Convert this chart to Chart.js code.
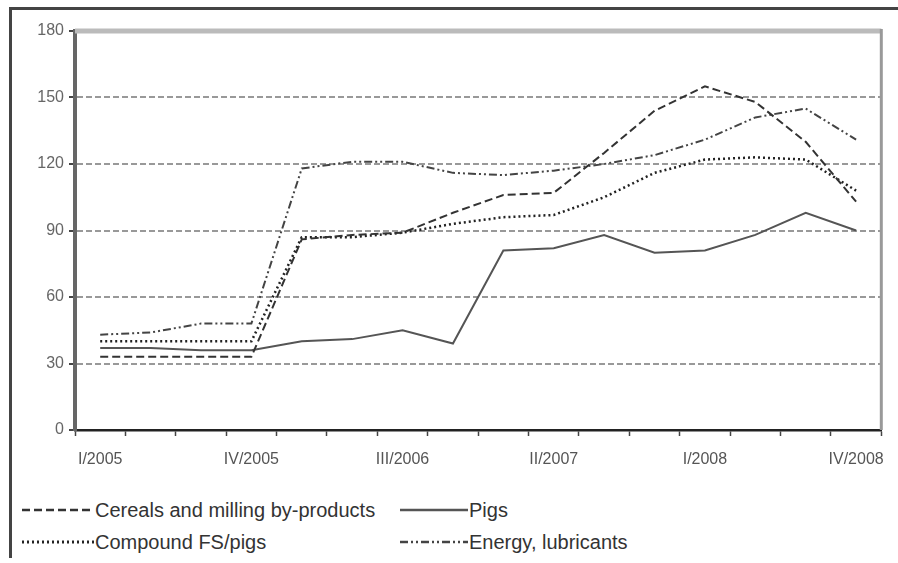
<!DOCTYPE html>
<html>
<head>
<meta charset="utf-8">
<script src="https://cdn.jsdelivr.net/npm/chart.js@4.4.0/dist/chart.umd.min.js"></script>
<style>
    html, body { margin: 0; padding: 0; background: #fff; }
    #wrap { position: relative; width: 898px; height: 563px; overflow: hidden; font-family: "Liberation Sans", Arial, sans-serif; }
    #frame { position: absolute; left: 9px; top: 7px; width: 900px; height: 548px; border-top: 3px solid #444; border-left: 3px solid #444; }
    #chartBox { position: absolute; left: 0; top: 0; width: 898px; height: 490px; }
    .legend-item { position: absolute; display: flex; align-items: center; font-size: 20px; color: #333; height: 24px; }
    .legend-item svg { margin-right: 1px; }
</style>
</head>
<body>
<div id="wrap">
    <div id="frame"></div>
    <div id="chartBox"><canvas id="priceChart"></canvas></div>
    <div id="legend"></div>
</div>
<script>
// quarters on the x axis
const quarters = [
    'I/2005', 'II/2005', 'III/2005', 'IV/2005',
    'I/2006', 'II/2006', 'III/2006', 'IV/2006',
    'I/2007', 'II/2007', 'III/2007', 'IV/2007',
    'I/2008', 'II/2008', 'III/2008', 'IV/2008'
];
const shownQuarters = ['I/2005', 'IV/2005', 'III/2006', 'II/2007', 'I/2008', 'IV/2008'];
const yTicks = [0, 30, 60, 90, 120, 150, 180];

// series values
const cereals = [33, 33, 33, 33, 86, 88, 89, 98, 106, 107, 125, 144, 155, 148, 130, 103];
const pigs = [37, 37, 36, 36, 40, 41, 45, 39, 81, 82, 88, 80, 81, 88, 98, 90];
const compoundFeed = [40, 40, 40, 40, 87, 87, 89, 93, 96, 97, 105, 116, 122, 123, 122, 108];
const energy = [43, 44, 48, 48, 118, 121, 121, 116, 115, 117, 120, 124, 131, 141, 145, 131];

const seriesStyles = [
    { label: 'Cereals and milling by-products', data: cereals, color: '#333', dash: [8, 4], width: 2 },
    { label: 'Pigs', data: pigs, color: '#555', dash: [], width: 2 },
    { label: 'Compound FS/pigs', data: compoundFeed, color: '#222', dash: [2, 3], width: 2.5 },
    { label: 'Energy, lubricants', data: energy, color: '#444', dash: [8, 3, 2, 3, 2, 3], width: 2 }
];

// grey top and right edges of the plot area
const plotFrame = {
    id: 'plotFrame',
    beforeDatasetsDraw(chart) {
        const { ctx, chartArea } = chart;
        ctx.save();
        ctx.strokeStyle = '#bbb';
        ctx.lineWidth = 5;
        ctx.beginPath();
        ctx.moveTo(chartArea.left, chartArea.top);
        ctx.lineTo(chartArea.right, chartArea.top);
        ctx.stroke();
        ctx.strokeStyle = '#999';
        ctx.lineWidth = 3;
        ctx.beginPath();
        ctx.moveTo(chartArea.right, chartArea.top - 2);
        ctx.lineTo(chartArea.right, chartArea.bottom);
        ctx.stroke();
        ctx.restore();
    }
};

new Chart(document.getElementById('priceChart'), {
    type: 'line',
    data: {
        labels: quarters,
        datasets: seriesStyles.map(s => ({
            label: s.label,
            data: s.data,
            borderColor: s.color,
            borderDash: s.dash,
            borderWidth: s.width,
            pointRadius: 0,
            tension: 0,
            fill: false
        }))
    },
    options: {
        responsive: true,
        maintainAspectRatio: false,
        animation: false,
        layout: { padding: { top: 31, right: 10, left: 0, bottom: 0 } },
        plugins: {
            legend: { display: false },
            tooltip: { enabled: false }
        },
        scales: {
            x: {
                offset: true,
                afterFit: scale => { scale.height = 60; },
                grid: { offset: true, drawOnChartArea: false, drawTicks: true, tickLength: 6, tickColor: '#444', tickWidth: 1.5 },
                border: { color: '#222', width: 2.5 },
                ticks: {
                    autoSkip: false,
                    maxRotation: 0,
                    padding: 14,
                    color: '#555',
                    font: { family: 'Liberation Sans', size: 16 },
                    callback: function (value) {
                        const name = this.getLabelForValue(value);
                        return shownQuarters.includes(name) ? name : '';
                    }
                }
            },
            y: {
                min: yTicks[0],
                max: yTicks[yTicks.length - 1],
                afterFit: scale => { scale.width = 75; },
                afterBuildTicks: scale => { scale.ticks = yTicks.map(v => ({ value: v })); },
                grid: { color: '#999', lineWidth: 2, drawTicks: true, tickLength: 6, tickColor: '#444', tickWidth: 2 },
                border: { color: '#666', width: 4, dash: [6, 3] },
                ticks: {
                    padding: 5,
                    color: '#666',
                    font: { family: 'Liberation Sans', size: 16 }
                }
            }
        }
    },
    plugins: [plotFrame]
});

// legend laid out in two columns like the original
const legendSpots = [
    { x: 22, y: 498, markerWidth: 72 },
    { x: 400, y: 498, markerWidth: 68 },
    { x: 22, y: 530, markerWidth: 72 },
    { x: 400, y: 530, markerWidth: 68 }
];
const legendBox = document.getElementById('legend');
seriesStyles.forEach((s, i) => {
    const spot = legendSpots[i];
    const item = document.createElement('div');
    item.className = 'legend-item';
    item.style.left = spot.x + 'px';
    item.style.top = spot.y + 'px';
    item.innerHTML = `
        <svg width="${spot.markerWidth}" height="10">
            <line x1="0" y1="5" x2="${spot.markerWidth}" y2="5" stroke="${s.color}"
                  stroke-width="${s.width + 0.5}" stroke-dasharray="${s.dash.join(' ') || 'none'}"/>
        </svg>
        <span>${s.label}</span>
    `;
    legendBox.appendChild(item);
});
</script>
</body>
</html>
